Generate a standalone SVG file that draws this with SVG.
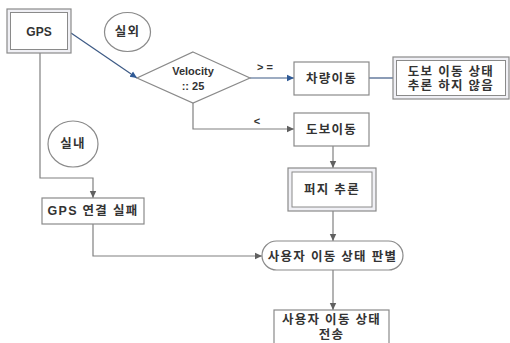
<svg xmlns="http://www.w3.org/2000/svg" width="510" height="343" viewBox="0 0 510 343">
<defs>
<style>
.box{fill:#fff;stroke:#8a8a8a;stroke-width:1.2}
.outer{fill:#f0f0f5;stroke:#8a8a8a;stroke-width:1.2}
.inner{fill:#fff;stroke:#8a8a8a;stroke-width:1}
.t{font-family:"Liberation Sans","Noto Sans CJK KR",sans-serif;font-weight:bold;font-size:12.5px;fill:#333;text-anchor:middle;dominant-baseline:central;letter-spacing:1.3px}
.lat{font-family:"Liberation Sans",sans-serif;font-weight:bold;font-size:11px;fill:#333;text-anchor:middle;dominant-baseline:central}
.c{fill:none;stroke:#808080;stroke-width:1.2}
.cb{fill:none;stroke:#3d5a85;stroke-width:1.2}
</style>
<marker id="ag" markerWidth="8" markerHeight="8" refX="7" refY="4" orient="auto" markerUnits="userSpaceOnUse"><path d="M0,0.8 L7,4 L0,7.2 Z" fill="#606060"/></marker>
<marker id="ab" markerWidth="8" markerHeight="8" refX="7" refY="4" orient="auto" markerUnits="userSpaceOnUse"><path d="M0,0.8 L7,4 L0,7.2 Z" fill="#2f5a96"/></marker>
</defs>
<rect width="510" height="343" fill="#fff"/>
<g id="connectors">
<path class="cb" d="M71,33 L137,78" marker-end="url(#ab)"/>
<path class="cb" d="M250,78 L294,78" marker-end="url(#ab)"/>
<path class="cb" d="M369,78 L393,78"/>
<path class="c" d="M193,103 L193,129 L294,129" marker-end="url(#ag)"/>
<path class="c" d="M333,146 L333,168" marker-end="url(#ag)"/>
<path class="c" d="M333,211 L333,241" marker-end="url(#ag)"/>
<path class="c" d="M333,270 L333,310" marker-end="url(#ag)"/>
<path class="c" d="M40,53 L40,178 L93,178 L93,198" marker-end="url(#ag)"/>
<path class="c" d="M93,224 L93,256 L262,256" marker-end="url(#ag)"/>
<text class="lat" x="265" y="67">&gt; =</text>
<text class="lat" x="257" y="121">&lt;</text>
</g>
<g id="gps">
<rect class="outer" x="7" y="9" width="64" height="44"/>
<rect class="inner" x="10.5" y="12.5" width="57" height="37"/>
<text class="lat" x="39" y="32" style="font-size:12px">GPS</text>
</g>
<g id="outdoor">
<ellipse cx="127.5" cy="32" rx="23" ry="19.5" fill="#fff" stroke="#8a8a8a" stroke-width="1.2"/>
<text class="t" x="127.5" y="32">실외</text>
</g>
<g id="indoor">
<ellipse cx="73" cy="144" rx="25" ry="23" fill="#fff" stroke="#8a8a8a" stroke-width="1.2"/>
<text class="t" x="73" y="144">실내</text>
</g>
<g id="velocity">
<path d="M193,52 L250,78 L193,103 L137,78 Z" fill="#fff" stroke="#8a8a8a" stroke-width="1.2"/>
<text class="lat" x="193" y="71">Velocity</text>
<text class="lat" x="193" y="86">:: 25</text>
</g>
<g id="vehicle">
<rect class="box" x="294" y="62" width="75" height="33"/>
<text class="t" x="331.5" y="78.5">차량이동</text>
</g>
<g id="no-infer">
<rect class="outer" x="393" y="57" width="116" height="42"/>
<rect class="inner" x="396.5" y="60.5" width="109" height="35"/>
<text class="t" x="451" y="71.5">도보 이동 상태</text>
<text class="t" x="451" y="86">추론 하지 않음</text>
</g>
<g id="walk">
<rect class="box" x="294" y="113" width="75" height="33"/>
<text class="t" x="331.5" y="129.5">도보이동</text>
</g>
<g id="fuzzy">
<rect class="outer" x="288" y="168" width="88" height="43"/>
<rect class="inner" x="292" y="172" width="80" height="35"/>
<text class="t" x="332" y="190">퍼지 추론</text>
</g>
<g id="gps-fail">
<rect class="box" x="42" y="198" width="102" height="26"/>
<text class="t" x="93" y="211">GPS 연결 실패</text>
</g>
<g id="judge">
<rect class="box" x="262" y="241" width="141" height="29" rx="14.5"/>
<text class="t" x="332.5" y="256.5">사용자 이동 상태 판별</text>
</g>
<g id="send">
<rect class="box" x="274" y="310" width="115" height="40"/>
<text class="t" x="331.5" y="320">사용자 이동 상태</text>
<text class="t" x="331.5" y="335">전송</text>
</g>
</svg>
